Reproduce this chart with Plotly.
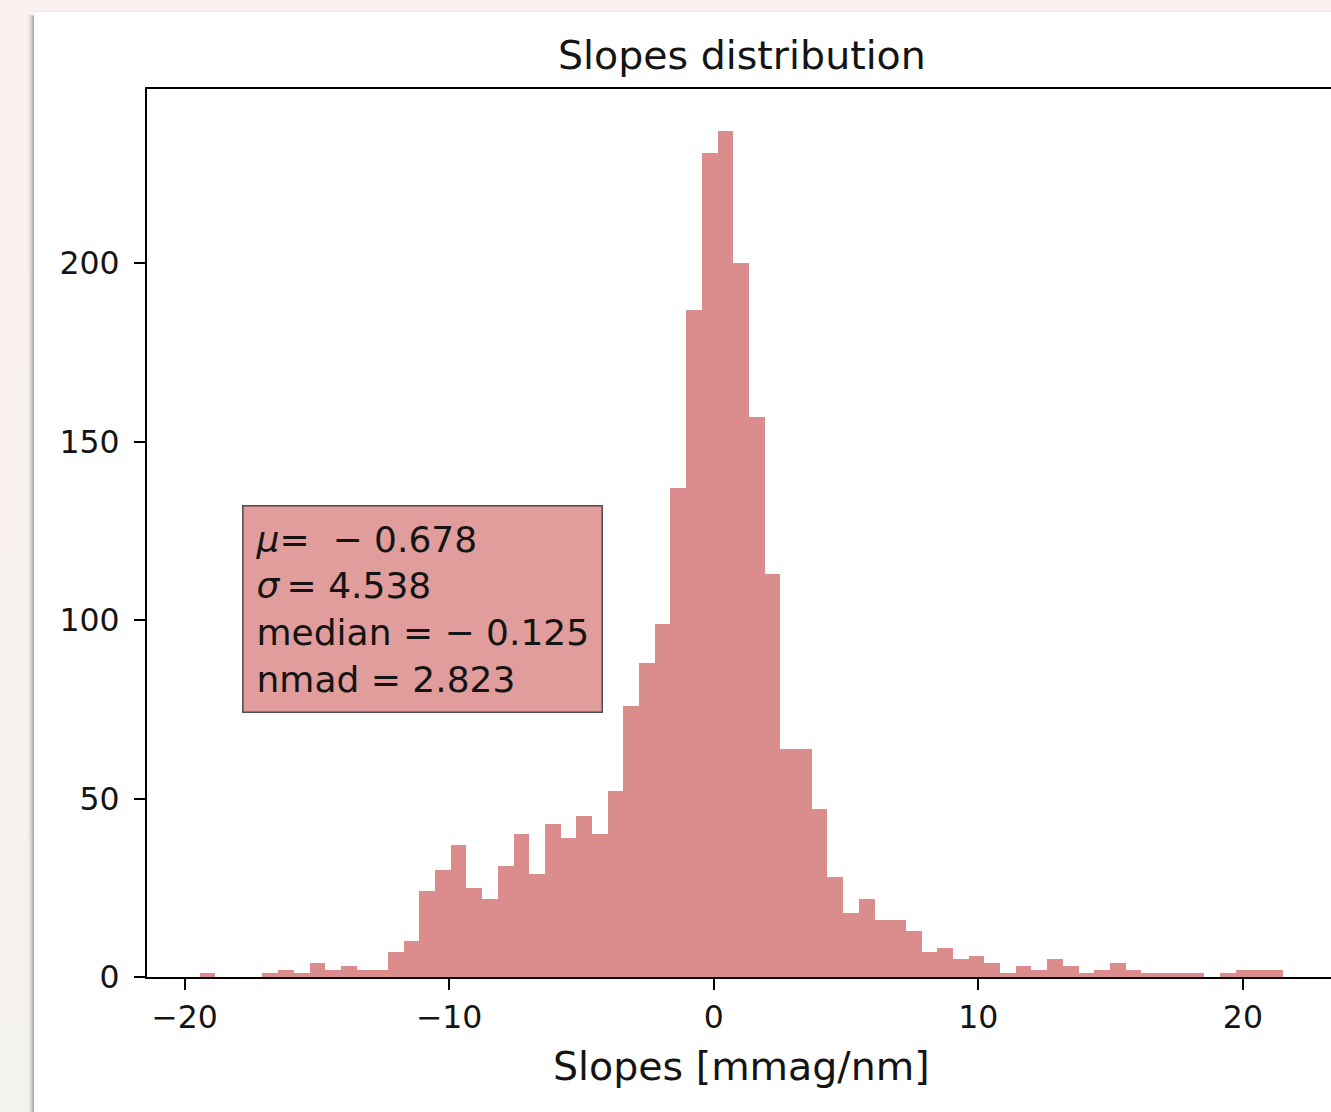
import plotly.graph_objects as go

# Histogram of fitted slopes: 69 equal-width bins between the data extremes
bin_lo = -19.43
bin_hi = 21.50
n_bins = 69
counts = [1, 0, 0, 0, 1, 2, 1, 4, 2, 3,
          2, 2, 7, 10, 24, 30, 37, 25, 22, 31,
          40, 29, 43, 39, 45, 40, 52, 76, 88, 99,
          137, 187, 231, 237, 200, 157, 113, 64, 64, 47,
          28, 18, 22, 16, 16, 13, 7, 8, 5, 6,
          4, 1, 3, 2, 5, 3, 1, 2, 4, 2,
          1, 1, 1, 1, 0, 1, 2, 2, 2]

x_ticks = [-20, -10, 0, 10, 20]
y_ticks = [0, 50, 100, 150, 200]

stats_lines = ["<i>μ</i>=\u00a0 − 0.678",
               "<i>σ</i>\u2009= 4.538",
               "median = − 0.125",
               "nmad = 2.823"]

title_text = "Slopes distribution"
xlabel_text = "Slopes [mmag/nm]"

width = (bin_hi - bin_lo) / n_bins
centers = [bin_lo + (i + 0.5) * width for i in range(n_bins)]

W, H = 1331, 1112
M_L, M_R, M_T, M_B = 147, 0, 89, 135
PW = W - M_L - M_R
PH = H - M_T - M_B


def px_x(p):
    return (p - M_L) / PW


def px_y(p):
    return (H - M_B - p) / PH


FONT = "DejaVu Sans"
INK = "rgb(20,20,20)"

fig = go.Figure()
fig.add_trace(go.Bar(
    x=centers, y=counts, width=width,
    marker=dict(color="rgb(219,140,140)", line=dict(width=0)),
    hoverinfo="skip", showlegend=False,
))

shapes = []
# page backdrop: soft vertical gradient on the left strip, pinkish at top
bands = 12
for k in range(bands):
    t = k / (bands - 1)
    r = round(252 + (244 - 252) * t)
    g = round(241 + (242 - 241) * t)
    b = 238
    y0 = k * H / bands
    y1 = (k + 1) * H / bands + 1
    shapes.append(dict(type="rect", xref="paper", yref="paper", layer="below",
                       x0=px_x(0), x1=px_x(34), y0=px_y(y1), y1=px_y(y0),
                       fillcolor=f"rgb({r},{g},{b})", line=dict(width=0)))
# card drop shadow along its left edge
shadow = ["rgb(238,236,233)", "rgb(230,228,226)", "rgb(220,219,217)",
          "rgb(206,205,204)", "rgb(190,190,190)", "rgb(172,172,172)"]
for k, c in enumerate(shadow):
    x0 = 28 + k
    shapes.append(dict(type="rect", xref="paper", yref="paper", layer="below",
                       x0=px_x(x0), x1=px_x(x0 + 1), y0=px_y(H), y1=px_y(14 + k * 0.3),
                       fillcolor=c, line=dict(width=0)))
# faint shadow along the top edge
for k, c in enumerate(["rgb(246,240,238)", "rgb(238,234,232)"]):
    shapes.append(dict(type="rect", xref="paper", yref="paper", layer="below",
                       x0=px_x(34), x1=px_x(W + 5), y0=px_y(11 + k), y1=px_y(10 + k),
                       fillcolor=c, line=dict(width=0)))
# white card
shapes.append(dict(type="rect", xref="paper", yref="paper", layer="below",
                   x0=px_x(34), x1=px_x(W + 5), y0=px_y(H + 5), y1=px_y(12),
                   fillcolor="white", line=dict(width=0)))

annotations = [
    dict(text=title_text, xref="paper", yref="paper",
         x=px_x(741.5), y=px_y(55), xanchor="center", yanchor="middle",
         showarrow=False, font=dict(family=FONT, size=39.5, color=INK)),
    dict(text=xlabel_text, xref="paper", yref="paper",
         x=px_x(741), y=px_y(1066), xanchor="center", yanchor="middle",
         showarrow=False, font=dict(family=FONT, size=39.5, color=INK)),
    dict(text="<br>".join(stats_lines), xref="paper", yref="paper",
         x=px_x(242), y=px_y(505), xanchor="left", yanchor="top", align="left",
         showarrow=False, font=dict(family=FONT, size=36, color=INK),
         bgcolor="rgb(225,156,156)", bordercolor="rgba(40,40,40,0.8)",
         borderwidth=1.5, borderpad=12),
]

fig.update_layout(
    width=W, height=H, autosize=False,
    margin=dict(l=M_L, r=M_R, t=M_T, b=M_B, pad=0),
    paper_bgcolor="rgb(250,242,239)",
    plot_bgcolor="white",
    bargap=0,
    shapes=shapes,
    annotations=annotations,
    xaxis=dict(range=[-21.42, 23.33], tickmode="array", tickvals=x_ticks,
               showgrid=False, zeroline=False,
               showline=True, linecolor="black", linewidth=2.2, mirror=True,
               ticks="outside", ticklen=11, tickwidth=2, tickcolor="black",
               ticklabelstandoff=0,
               tickfont=dict(family=FONT, size=31.5, color=INK)),
    yaxis=dict(range=[0, 248.9], tickmode="array", tickvals=y_ticks,
               showgrid=False, zeroline=False,
               showline=True, linecolor="black", linewidth=2.2,
               ticks="outside", ticklen=11, tickwidth=2, tickcolor="black",
               ticklabelstandoff=8,
               tickfont=dict(family=FONT, size=31.5, color=INK)),
)

fig.write_html("out.html")
